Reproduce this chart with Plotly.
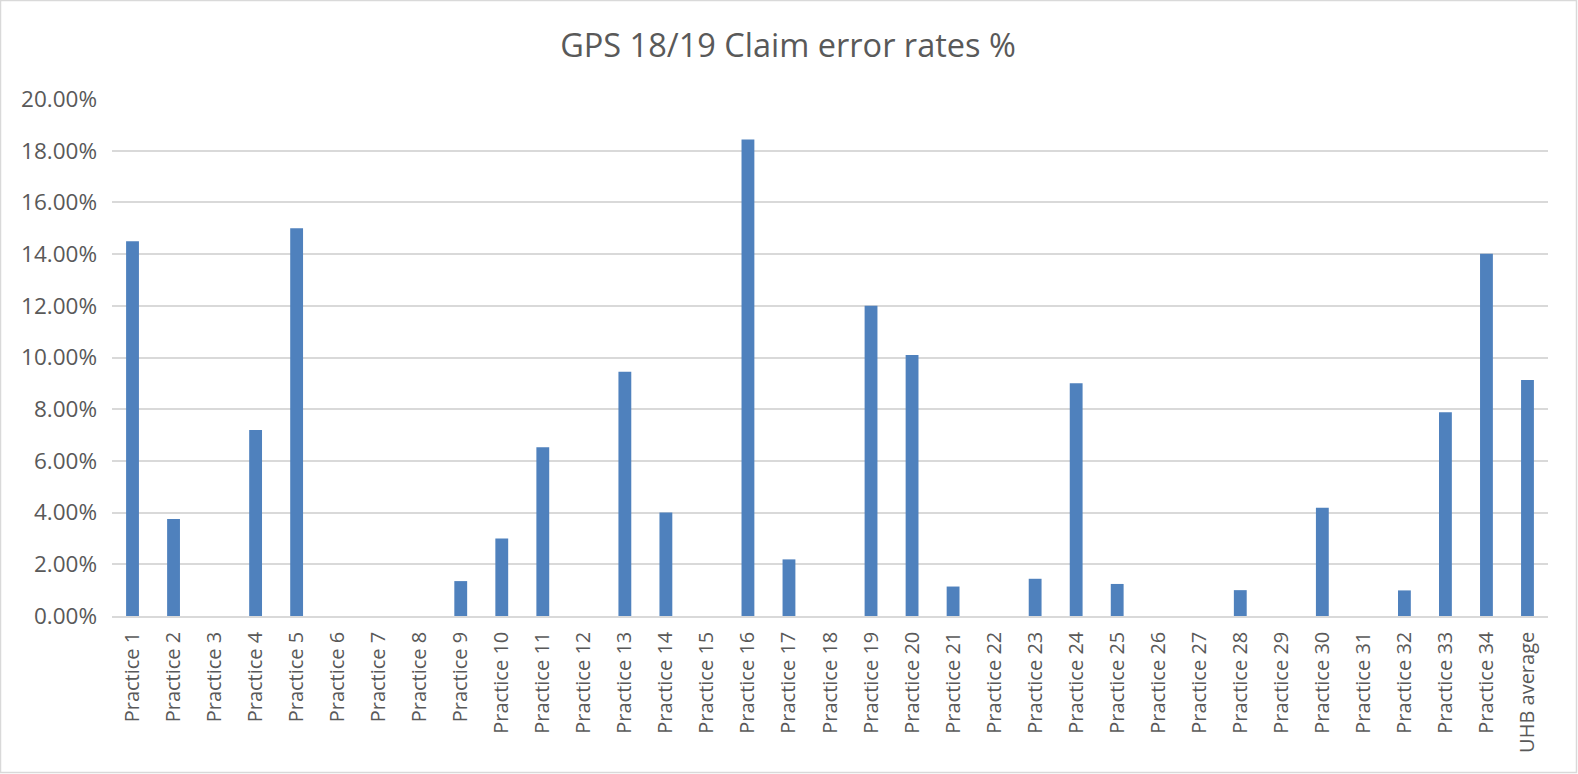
import plotly.graph_objects as go

categories = [f"Practice {i}" for i in range(1, 35)] + ["UHB average"]
error_rates = [
    0.1450, 0.0375, 0.0, 0.0720, 0.1500, 0.0, 0.0, 0.0, 0.0135, 0.0300,
    0.0653, 0.0, 0.0945, 0.0400, 0.0, 0.1843, 0.0219, 0.0, 0.1200, 0.1010,
    0.0114, 0.0, 0.0144, 0.0900, 0.0124, 0.0, 0.0, 0.0100, 0.0, 0.0419,
    0.0, 0.0099, 0.0788, 0.1401, 0.0913,
]
y_ticks = [i * 0.02 for i in range(11)]

FONT = "Open Sans, Lato, sans-serif"
TEXT = "#595959"
GRID = "#D9D9D9"

fig = go.Figure(
    go.Bar(
        x=categories,
        y=error_rates,
        marker=dict(color="#4F81BD", line=dict(width=0)),
    )
)

W, H = 1578, 774
ml, mr, mt, mb = 112, 30, 99, 158
pw, ph = W - ml - mr, H - mt - mb

fig.update_layout(
    width=W,
    height=H,
    margin=dict(l=ml, r=mr, t=mt, b=mb, autoexpand=False),
    paper_bgcolor="white",
    plot_bgcolor="white",
    bargap=0.687,
    showlegend=False,
    font=dict(family=FONT, color=TEXT),
    title=dict(
        text="GPS 18/19 Claim error rates %",
        x=788 / W,
        xanchor="center",
        xref="container",
        y=1 - 46 / H,
        yanchor="middle",
        yref="container",
        font=dict(family=FONT, size=32.5, color=TEXT),
    ),
    xaxis=dict(
        type="category",
        tickangle=-90,
        tickfont=dict(family=FONT, size=20, color=TEXT),
        showgrid=False,
        showline=True,
        linecolor=GRID,
        linewidth=1.5,
        ticks="",
        ticklabelstandoff=6,
    ),
    yaxis=dict(
        range=[0, 0.2],
        tickvals=y_ticks,
        tickformat=".2%",
        tickfont=dict(family=FONT, size=22.5, color=TEXT),
        showgrid=True,
        gridcolor=GRID,
        gridwidth=1.5,
        zeroline=False,
        showline=False,
        ticks="",
        ticklabelstandoff=14,
    ),
    shapes=[
        dict(
            type="rect",
            xref="paper",
            yref="paper",
            x0=(0.5 - ml) / pw,
            x1=(W - 1.5 - ml) / pw,
            y0=(H - mb - (H - 1.5)) / ph,
            y1=(H - mb - 0.5) / ph,
            line=dict(color=GRID, width=1.5),
            fillcolor="rgba(0,0,0,0)",
            layer="below",
        )
    ],
)

fig.write_html(
    "out.html",
    config={"displayModeBar": False},
    post_script="document.body.style.margin='0';document.body.style.overflow='hidden';",
)
